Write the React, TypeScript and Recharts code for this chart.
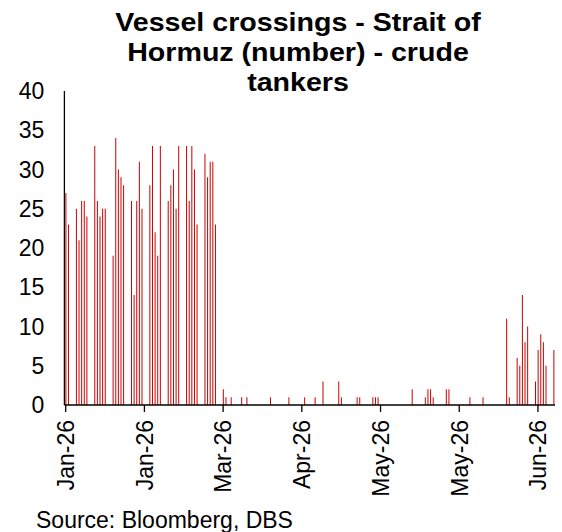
import { BarChart, Bar, XAxis, YAxis } from "recharts";

// daily crude tanker crossings, 2026 (null = no reading)
const _ = null;
const jan = [27, 23, _, _, 25, 21, 26, 26, 24, _, _, 33, 26, 24, 25, 25, _, _, 19, 34, 30, 29, 28, _, _, 26, 14, 26, 31, 25, _];
const feb = [_, 28, 33, 22, 19, 33, _, _, 26, 28, 30, 25, 33, _, _, 33, 26, 33, 30, 23, _, _, 32, 29, 31, 31, 23, _];
const mar = [_, 2, 1, _, 1, _, _, _, 1, _, 1, _, _, _, _, _, _, _, _, 1, _, _, _, _, _, _, 1, _, _, _, _];
const apr = [_, 1, _, _, _, 1, _, _, 3, _, _, _, _, _, 3, 1, _, _, _, _, _, 1, 1, _, _, _, _, 1, 1, 1];
const may = [_, _, _, _, _, _, _, _, _, _, _, _, 2, _, _, _, _, 1, 2, 2, 1, _, _, _, _, 2, 2, _, _, _, _];
const jun = [_, _, _, 1, _, _, _, _, 1, _, _, _, _, _, _, _, _, 11, 1, _, _, 6, 5, 14, 8, 10, _, _, 3, 7];
const jul = [9, 8, 5, _, _, 7];

const tickDays = [0, 30, 60, 90, 120, 150, 180];
const tickLabels = ["Jan-26", "Jan-26", "Mar-26", "Apr-26", "May-26", "May-26", "Jun-26"];
const yTicks = [0, 5, 10, 15, 20, 25, 30, 35, 40];

const titleLines = ["Vessel crossings - Strait of", "Hormuz (number) - crude", "tankers"];
const source = "Source: Bloomberg, DBS";

const days = [...jan, ...feb, ...mar, ...apr, ...may, ...jun, ...jul];
const data = days
  .map((v, i) => ({ day: i, value: v }))
  .filter((d) => d.value !== null);

const font = "'Liberation Sans', Arial, sans-serif";

function DateTick(props: any) {
  const { x, y, payload } = props;
  const idx = tickDays.indexOf(payload.value);
  return (
    <g transform={`translate(${x},${y}) rotate(-90)`}>
      <text x={0} y={0} dy="0.36em" textAnchor="end" fontSize={23} fill="#000" fontFamily={font}>
        {tickLabels[idx]}
      </text>
    </g>
  );
}

export default function App() {
  return (
    <div style={{ position: "absolute", left: 0, top: 0, width: 562, height: 532, background: "#fff" }}>
      <BarChart
        width={562}
        height={532}
        data={data}
        margin={{ top: 91, right: 7, bottom: 7, left: 0 }}
      >
        <XAxis
          dataKey="day"
          type="number"
          domain={[-0.5, 186.5]}
          ticks={tickDays}
          interval={0}
          height={120}
          tickSize={7}
          tickMargin={8}
          axisLine={{ stroke: "#000", strokeWidth: 1.3 }}
          tickLine={{ stroke: "#000", strokeWidth: 1.3 }}
          tick={<DateTick />}
        />
        <YAxis
          domain={[0, 40]}
          ticks={yTicks}
          interval={0}
          width={64.4}
          tickSize={0}
          tickMargin={20}
          axisLine={{ stroke: "#000", strokeWidth: 1.3 }}
          tickLine={false}
          tick={{ fill: "#000", fontSize: 23, fontFamily: font }}
        />
        <Bar dataKey="value" fill="#CC0000" barSize={1} isAnimationActive={false} />
      </BarChart>
      <svg
        width={562}
        height={532}
        style={{ position: "absolute", left: 0, top: 0, pointerEvents: "none" }}
      >
        <g transform="translate(298,0) scale(1.1,1)">
          {titleLines.map((line, i) => (
            <text
              key={i}
              x={0}
              y={31.5 + i * 30}
              textAnchor="middle"
              fontSize={26}
              fontWeight="bold"
              fill="#000"
              fontFamily={font}
            >
              {line}
            </text>
          ))}
        </g>
        <text x={36} y={528} fontSize={23} fill="#000" fontFamily={font}>
          {source}
        </text>
      </svg>
    </div>
  );
}
